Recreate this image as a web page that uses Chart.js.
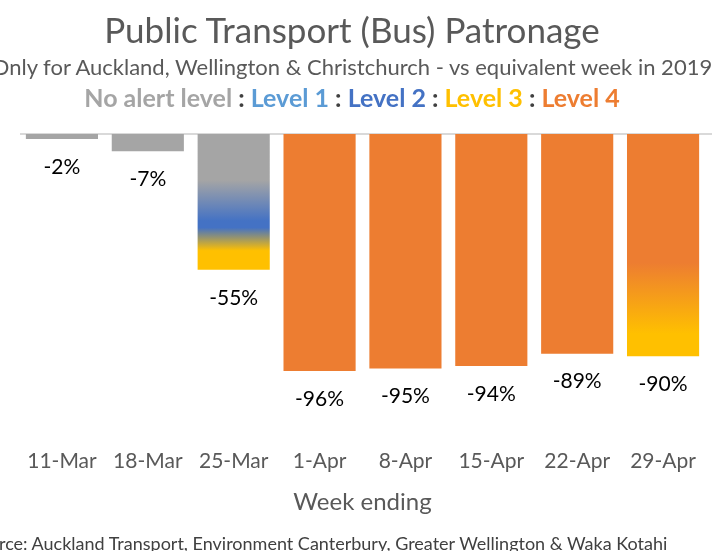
<!DOCTYPE html>
<html>
<head>
<meta charset="utf-8">
<script src="https://cdn.jsdelivr.net/npm/chart.js@4"></script>
<style>
  html, body { margin: 0; padding: 0; background: #fff; }
  #wrap { position: relative; width: 712px; height: 551px; overflow: hidden; font-family: Lato, "Open Sans", sans-serif; }
  #myChart { position: absolute; left: 0; top: 0; }
  .line { position: absolute; left: -100px; width: 904px; text-align: center; white-space: nowrap; color: #595959; line-height: normal; }
  #title { top: 8px; font-size: 35px; }
  #subtitle { top: 53px; font-size: 22px; }
  #levels { top: 82px; font-size: 25px; font-weight: bold; color: #404040; }
  #source { position: absolute; left: -31px; top: 532px; font-size: 18px; color: #404040; white-space: nowrap; }
</style>
</head>
<body>
<div id="wrap">
  <canvas id="myChart" width="712" height="551"></canvas>
  <div class="line" id="title">Public Transport (Bus) Patronage</div>
  <div class="line" id="subtitle">Only for Auckland, Wellington &amp; Christchurch - vs equivalent week in 2019</div>
  <div class="line" id="levels"><span style="color:#a5a5a5">No alert level</span> : <span style="color:#5b9bd5">Level 1</span> : <span style="color:#4472c4">Level 2</span> : <span style="color:#ffc000">Level 3</span> : <span style="color:#ed7d31">Level 4</span></div>
  <div id="source">Source: Auckland Transport, Environment Canterbury, Greater Wellington &amp; Waka Kotahi</div>
</div>
<script>
// data
const weeks = ['11-Mar', '18-Mar', '25-Mar', '1-Apr', '8-Apr', '15-Apr', '22-Apr', '29-Apr'];
const patronage = [-2, -7, -55, -96, -95, -94, -89, -90];

const grey = '#a5a5a5', blue = '#4472c4', yellow = '#ffc000', orange = '#ed7d31';

function barFill(context) {
  const i = context.dataIndex;
  const v = patronage[i];
  const chart = context.chart;
  const area = chart.chartArea;
  if (!area) return grey;
  if (i < 2) return grey;
  const y = chart.scales.y;
  const top = y.getPixelForValue(0);
  const bottom = y.getPixelForValue(v);
  const g = chart.ctx.createLinearGradient(0, top, 0, bottom);
  if (i === 2) {
    // no alert -> level 2 -> level 3 during that week
    g.addColorStop(0, grey);
    g.addColorStop(0.34, grey);
    g.addColorStop(0.64, blue);
    g.addColorStop(0.69, blue);
    g.addColorStop(0.86, yellow);
    g.addColorStop(1, yellow);
    return g;
  }
  if (i === 7) {
    g.addColorStop(0, orange);
    g.addColorStop(0.58, orange);
    g.addColorStop(0.9, yellow);
    g.addColorStop(1, yellow);
    return g;
  }
  return orange;
}

const zeroLine = {
  id: 'zeroLine',
  beforeDatasetsDraw(chart) {
    const { ctx, chartArea, scales } = chart;
    const y = scales.y.getPixelForValue(0);
    ctx.save();
    ctx.strokeStyle = '#d9d9d9';
    ctx.lineWidth = 2;
    ctx.beginPath();
    ctx.moveTo(chartArea.left + 1, y);
    ctx.lineTo(chart.width, y);
    ctx.stroke();
    ctx.restore();
  }
};

const barLabels = {
  id: 'barLabels',
  afterDatasetsDraw(chart) {
    const { ctx } = chart;
    const meta = chart.getDatasetMeta(0);
    ctx.save();
    ctx.font = '21px Lato, "Open Sans", sans-serif';
    ctx.fillStyle = '#000';
    ctx.textAlign = 'center';
    ctx.textBaseline = 'middle';
    meta.data.forEach((bar, i) => {
      ctx.fillText(patronage[i] + '%', bar.x, bar.y + 28);
    });
    ctx.restore();
  }
};

const ctx = document.getElementById('myChart');

new Chart(ctx, {
  type: 'bar',
  data: {
    labels: weeks,
    datasets: [{
      data: patronage,
      backgroundColor: barFill,
      borderWidth: 0,
      barPercentage: 0.84,
      categoryPercentage: 1
    }]
  },
  options: {
    responsive: false,
    animation: false,
    layout: { padding: { top: 134, left: 19, right: 6, bottom: 0 } },
    plugins: {
      legend: { display: false },
      tooltip: { enabled: false }
    },
    scales: {
      x: {
        afterFit(scale) { scale.height = 106; },
        grid: { display: false, drawTicks: false },
        border: { display: false },
        ticks: { color: '#595959', padding: 4, font: { family: 'Lato', size: 21 } },
        title: {
          display: true,
          text: 'Week ending',
          color: '#595959',
          font: { family: 'Lato', size: 24 },
          padding: { top: 34, bottom: 34 }
        }
      },
      y: {
        display: false,
        min: -126,
        max: 0
      }
    }
  },
  plugins: [zeroLine, barLabels]
});
</script>
</body>
</html>
